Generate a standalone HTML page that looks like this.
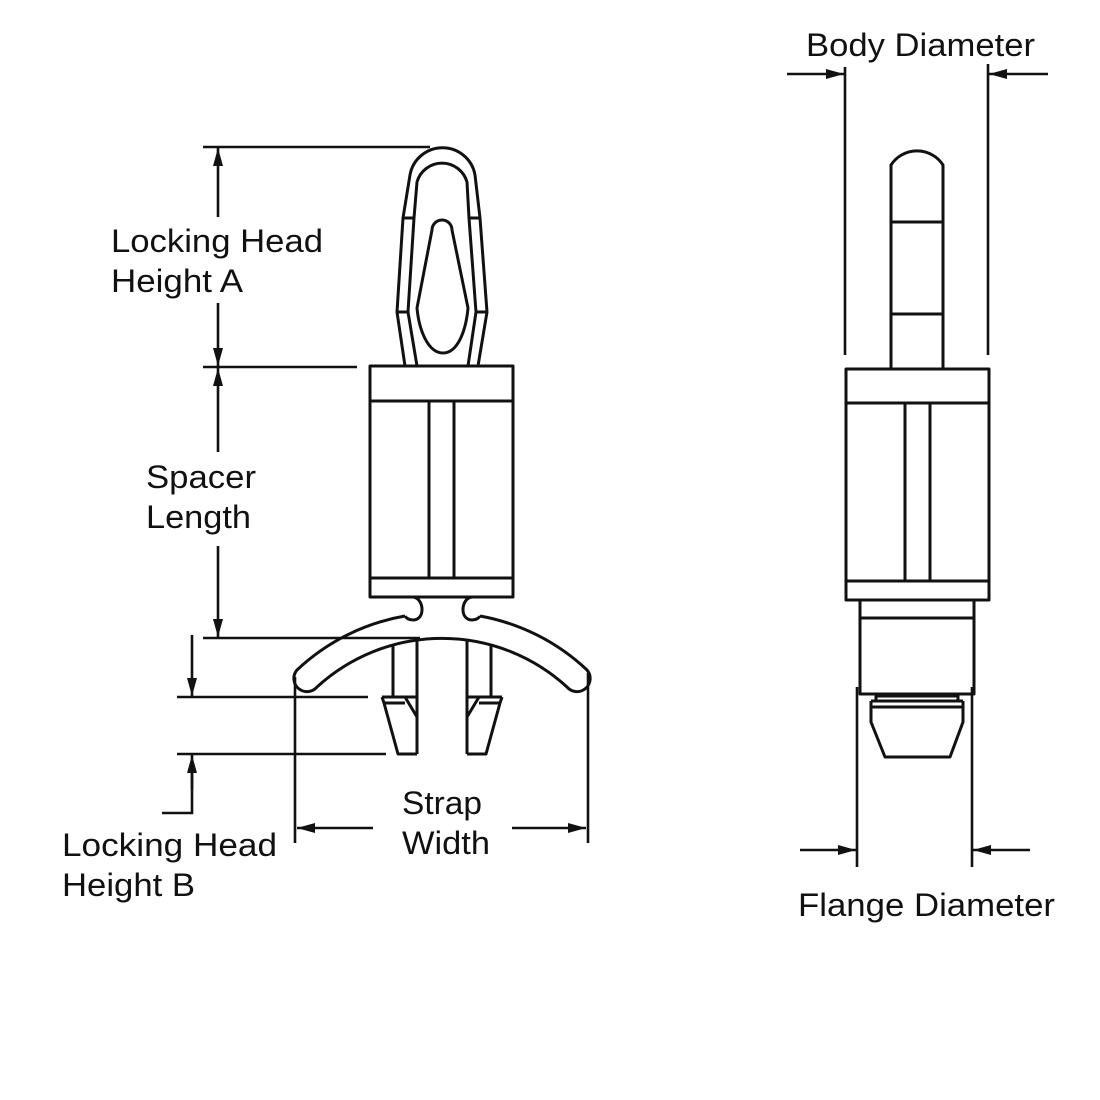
<!DOCTYPE html>
<html>
<head>
<meta charset="utf-8">
<style>
  html, body { margin: 0; padding: 0; background: #ffffff; }
  svg { display: block; }
  text { font-family: "Liberation Sans", Arial, sans-serif; font-size: 32px; fill: #111; }
</style>
</head>
<body>
<svg width="1100" height="1100" viewBox="0 0 1100 1100" xmlns="http://www.w3.org/2000/svg">
  <defs>
    <marker id="ah" viewBox="0 0 18 10" refX="18" refY="5" markerWidth="18" markerHeight="10" markerUnits="userSpaceOnUse" orient="auto">
      <path d="M0,0 L18,5 L0,10 Z" fill="#111"/>
    </marker>
  </defs>
  <rect width="1100" height="1100" fill="#fff"/>

  <g fill="none" stroke="#111" stroke-width="3" stroke-linejoin="round" stroke-linecap="butt">
    <!-- ===== LEFT VIEW ===== -->
    <path d="M405,366 L397,312 L403,218 L410,175 A33,33 0 0 1 475,175 L480,218 L487,312 L478,366"/>
    <path d="M417,366 L408,312 L414,218 L417,182 A26,26 0 0 1 467,182 L469,218 L476,312 L468,366"/>
    <path d="M403,218 H414 M469,218 H480 M397,312 H408 M476,312 H487"/>
    <path d="M432,230 A10,10 0 0 1 452,230 L468,308 C466,330 458,353 443,353 C428,353 419,330 417,308 Z"/>

    <rect x="370" y="366" width="143" height="231"/>
    <path d="M370,401 H513 M370,578 H513 M429,401 V578 M454,401 V578"/>

    <path d="M413,597 C424,598 426,620 413,620 C409,620 406,618 405,616"/>
    <path d="M472,597 C461,598 459,620 472,620 C476,620 479,618 480,616"/>

    <path d="M405,616 A210,210 0 0 0 297,670 A13,13 0 0 0 317,687 A185,185 0 0 1 567,687 A13,13 0 0 0 587,670 A210,210 0 0 0 480,616"/>

    <path d="M393,646 V697 M417,641 V754 M382,697 H417 M384,703 H405 M405,697 L417,717"/>
    <path d="M382,697 L384,703 L398,754 H417"/>
    <path d="M491,646 V697 M467,641 V754 M502,697 H467 M500,703 H479 M479,697 L467,717"/>
    <path d="M502,697 L500,703 L486,754 H467"/>

    <!-- ===== RIGHT VIEW ===== -->
    <path d="M891,369 V165 A31,31 0 0 1 943,165 V369"/>
    <path d="M891,222 H943 M891,314 H943"/>
    <rect x="846" y="369" width="143" height="231"/>
    <path d="M846,403 H989 M846,581 H989 M905,403 V581 M930,403 V581"/>
    <rect x="860" y="600" width="114" height="94"/>
    <path d="M860,618 H974"/>
    <rect x="876" y="696" width="82" height="5"/>
    <path d="M871,701 H963 M871,707 H963"/>
    <path d="M871,701 V722 L885,757 H950 L963,722 V701"/>
  </g>

  <!-- ===== DIMENSIONS ===== -->
  <g fill="none" stroke="#111" stroke-width="2.6">
    <path d="M203,147 H430"/>
    <path d="M203,367 H357"/>
    <line x1="218" y1="217" x2="218" y2="148" marker-end="url(#ah)"/>
    <line x1="218" y1="303" x2="218" y2="366" marker-end="url(#ah)"/>
    <line x1="218" y1="452" x2="218" y2="368" marker-end="url(#ah)"/>
    <line x1="218" y1="546" x2="218" y2="637" marker-end="url(#ah)"/>
    <path d="M203,638 H420"/>
    <line x1="192" y1="635" x2="192" y2="696" marker-end="url(#ah)"/>
    <path d="M177,697 H368"/>
    <path d="M177,754 H386"/>
    <path d="M162,813 H192 V770"/>
    <line x1="192" y1="790" x2="192" y2="755" marker-end="url(#ah)"/>
    <path d="M295,677 V843 M588,673 V843"/>
    <line x1="373" y1="828" x2="297" y2="828" marker-end="url(#ah)"/>
    <line x1="512" y1="828" x2="586" y2="828" marker-end="url(#ah)"/>
    <path d="M845,67 V355 M988,64 V355"/>
    <line x1="787" y1="74" x2="844" y2="74" marker-end="url(#ah)"/>
    <line x1="1048" y1="74" x2="989" y2="74" marker-end="url(#ah)"/>
    <path d="M857,687 V867 M972,687 V867"/>
    <line x1="800" y1="850" x2="856" y2="850" marker-end="url(#ah)"/>
    <line x1="1030" y1="850" x2="973" y2="850" marker-end="url(#ah)"/>
  </g>

  <!-- ===== LABELS ===== -->
  <text x="111" y="252" textLength="212" lengthAdjust="spacingAndGlyphs">Locking Head</text>
  <text x="111" y="292" textLength="132" lengthAdjust="spacingAndGlyphs">Height A</text>
  <text x="146" y="488" textLength="110" lengthAdjust="spacingAndGlyphs">Spacer</text>
  <text x="146" y="528" textLength="105" lengthAdjust="spacingAndGlyphs">Length</text>
  <text x="62" y="856" textLength="215" lengthAdjust="spacingAndGlyphs">Locking Head</text>
  <text x="62" y="896" textLength="133" lengthAdjust="spacingAndGlyphs">Height B</text>
  <text x="402" y="814" textLength="80" lengthAdjust="spacingAndGlyphs">Strap</text>
  <text x="402" y="854" textLength="88" lengthAdjust="spacingAndGlyphs">Width</text>
  <text x="806" y="56" textLength="229" lengthAdjust="spacingAndGlyphs">Body Diameter</text>
  <text x="798" y="916" textLength="257" lengthAdjust="spacingAndGlyphs">Flange Diameter</text>
</svg>
</body>
</html>
